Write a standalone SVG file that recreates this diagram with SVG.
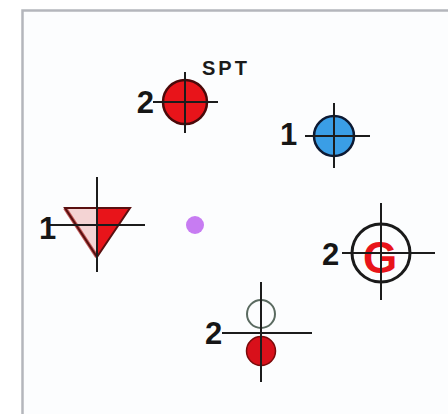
<svg xmlns="http://www.w3.org/2000/svg" width="448" height="414" viewBox="0 0 448 414">
<style>
.ln{stroke:#1c1c1c;stroke-width:2;fill:none}
.num{font-family:"Liberation Sans",Arial,sans-serif;font-weight:bold;font-size:31px;fill:#161616}
</style>
<rect x="0" y="0" width="448" height="414" fill="#ffffff"/>
<rect x="22.5" y="10.5" width="440" height="420" fill="#fcfdfe" stroke="#b4b6bc" stroke-width="2.5"/>
<g id="spt">
<circle cx="185" cy="102" r="22" fill="#e8141a" stroke="#4a0a0a" stroke-width="2.5"/>
<line class="ln" x1="153" y1="102" x2="218" y2="102"/>
<line class="ln" x1="185" y1="72" x2="185" y2="133"/>
<text class="num" x="154" y="113" text-anchor="end" font-size="32">2</text>
<text x="202" y="75" font-family="'Liberation Sans',Arial,sans-serif" font-weight="bold" font-size="20" letter-spacing="3" fill="#1a1a1a">SPT</text>
</g>
<g id="blue">
<circle cx="334" cy="136" r="20" fill="#3a9ee6" stroke="#0d1a33" stroke-width="2.5"/>
<line class="ln" x1="305" y1="136" x2="370" y2="136"/>
<line class="ln" x1="334" y1="103" x2="334" y2="168"/>
<text class="num" x="280" y="145">1</text>
</g>
<g id="triangle">
<polygon points="65,208 97,208 97,257" fill="#f4d4d4"/>
<polygon points="97,208 130,208 97,257" fill="#e8141a"/>
<polyline points="97,257 65,208" fill="none" stroke="#c25a5a" stroke-width="4"/>
<polygon points="65,208 130,208 97,257" fill="none" stroke="#5a1010" stroke-width="2"/>
<line class="ln" x1="47" y1="225" x2="145" y2="225"/>
<line class="ln" x1="97" y1="177" x2="97" y2="272"/>
<text class="num" x="39" y="239">1</text>
</g>
<g id="g-node">
<circle cx="381" cy="253" r="29" fill="none" stroke="#1a1a1a" stroke-width="3"/>
<text x="380" y="273" text-anchor="middle" font-family="'Liberation Sans',Arial,sans-serif" font-weight="bold" font-size="44" fill="#e8141a">G</text>
<line class="ln" x1="342" y1="253" x2="435" y2="253"/>
<line class="ln" x1="381" y1="203" x2="381" y2="300"/>
<text class="num" x="322" y="265">2</text>
</g>
<g id="bottom">
<circle cx="261" cy="314" r="14" fill="none" stroke="#5a6a60" stroke-width="2"/>
<circle cx="261" cy="351" r="14.5" fill="#d8101a" stroke="#7a0a0a" stroke-width="1.5"/>
<line class="ln" x1="222" y1="333" x2="312" y2="333"/>
<line class="ln" x1="261" y1="282" x2="261" y2="382"/>
<text class="num" x="205" y="344">2</text>
</g>
<g id="dot">
<circle cx="195" cy="225" r="9" fill="#c77cf2"/>
</g>
</svg>
